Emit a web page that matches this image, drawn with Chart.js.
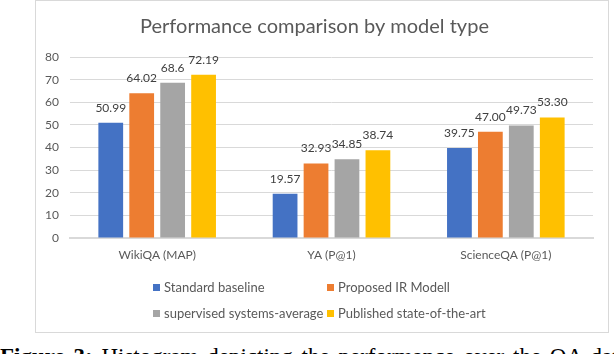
<!DOCTYPE html>
<html>
<head>
<meta charset="utf-8">
<script src="https://cdn.jsdelivr.net/npm/chart.js@4/dist/chart.umd.min.js"></script>
<style>
  html, body { margin: 0; padding: 0; background: #fff; }
  body { width: 614px; height: 354px; overflow: hidden; position: relative; }
  #frame {
    position: absolute; left: 35px; top: 0;
    width: 572px; height: 331px;
    border: 1px solid #d9d9d9;
  }
  #frame canvas { display: block; }
  #caption {
    position: absolute; left: 0; top: 346px;
    font: 23px "Liberation Serif", "DejaVu Serif", serif;
    line-height: 22px; white-space: nowrap; color: #000;
    word-spacing: 3px;
  }
</style>
</head>
<body>
<div id="frame"><canvas id="chart" width="572" height="331"></canvas></div>
<div id="caption"><b>Figure 3:</b> Histogram depicting the performance over the QA data</div>
<script>
// Data (kept as text so labels show as in the original: 68.6, 47.00 ...)
const categories = ['WikiQA (MAP)', 'YA (P@1)', 'ScienceQA (P@1)'];
const seriesNames = ['Standard baseline', 'Proposed IR Modell', 'supervised systems-average', 'Published state-of-the-art'];
const standardBaseline = ['50.99', '19.57', '39.75'];
const proposedIR = ['64.02', '32.93', '47.00'];
const supervisedAverage = ['68.6', '34.85', '49.73'];
const publishedSota = ['72.19', '38.74', '53.30'];
const yTicks = [0, 10, 20, 30, 40, 50, 60, 70, 80];

const colors = ['#4472C4', '#ED7D31', '#A5A5A5', '#FFC000'];
const FONT = 'Lato, "Open Sans", sans-serif';

// value labels above each bar
const valueLabels = {
    id: 'valueLabels',
    afterDatasetsDraw(chart) {
        const ctx = chart.ctx;
        ctx.save();
        ctx.font = '12px ' + FONT;
        ctx.fillStyle = '#404040';
        ctx.textAlign = 'center';
        ctx.textBaseline = 'alphabetic';
        chart.data.datasets.forEach((ds, i) => {
            chart.getDatasetMeta(i).data.forEach((bar, j) => {
                ctx.fillText(ds.data[j], bar.x, bar.y - 11);
            });
        });
        ctx.restore();
    }
};

// Excel-like 2x2 legend grid
const gridLegend = {
    id: 'gridLegend',
    afterDraw(chart, args, opts) {
        const ctx = chart.ctx;
        ctx.save();
        ctx.font = '13px ' + FONT;
        ctx.textBaseline = 'middle';
        chart.data.datasets.forEach((ds, i) => {
            const x = opts.cols[i % 2];
            const y = opts.rows[Math.floor(i / 2)];
            ctx.fillStyle = ds.backgroundColor;
            ctx.fillRect(x, y - 3.5, 7, 7);
            ctx.fillStyle = '#595959';
            ctx.fillText(ds.label, x + 11, y);
        });
        ctx.restore();
    }
};

const seriesData = [standardBaseline, proposedIR, supervisedAverage, publishedSota];

new Chart(document.getElementById('chart'), {
    type: 'bar',
    data: {
        labels: categories,
        datasets: seriesData.map((d, i) => ({
            label: seriesNames[i],
            data: d,
            backgroundColor: colors[i],
            borderWidth: 0,
            categoryPercentage: 0.71,
            barPercentage: 0.8
        }))
    },
    options: {
        responsive: false,
        animation: false,
        events: [],
        layout: { padding: { left: 0, right: 15, top: 0, bottom: 70 } },
        plugins: {
            legend: { display: false },
            tooltip: { enabled: false },
            title: {
                display: true,
                text: 'Performance comparison by model type',
                color: '#595959',
                font: { family: FONT, size: 20, weight: 'normal' },
                padding: { top: 14, bottom: 18 }
            },
            gridLegend: { cols: [117, 291], rows: [286.5, 312.5] }
        },
        scales: {
            x: {
                grid: { display: false, drawTicks: false },
                border: { display: true, color: '#d9d9d9', width: 2 },
                ticks: { color: '#595959', font: { family: FONT, size: 12 }, padding: 10 },
                afterFit(scale) { scale.height = 24; }
            },
            y: {
                min: 0,
                max: 80,
                afterBuildTicks(scale) { scale.ticks = yTicks.map(v => ({ value: v })); },
                grid: { color: '#d9d9d9', lineWidth: 1, drawTicks: false },
                border: { display: false },
                ticks: { color: '#595959', font: { family: FONT, size: 12 }, padding: 11 },
                afterFit(scale) { scale.width = 34; }
            }
        }
    },
    plugins: [valueLabels, gridLegend]
});
</script>
</body>
</html>
